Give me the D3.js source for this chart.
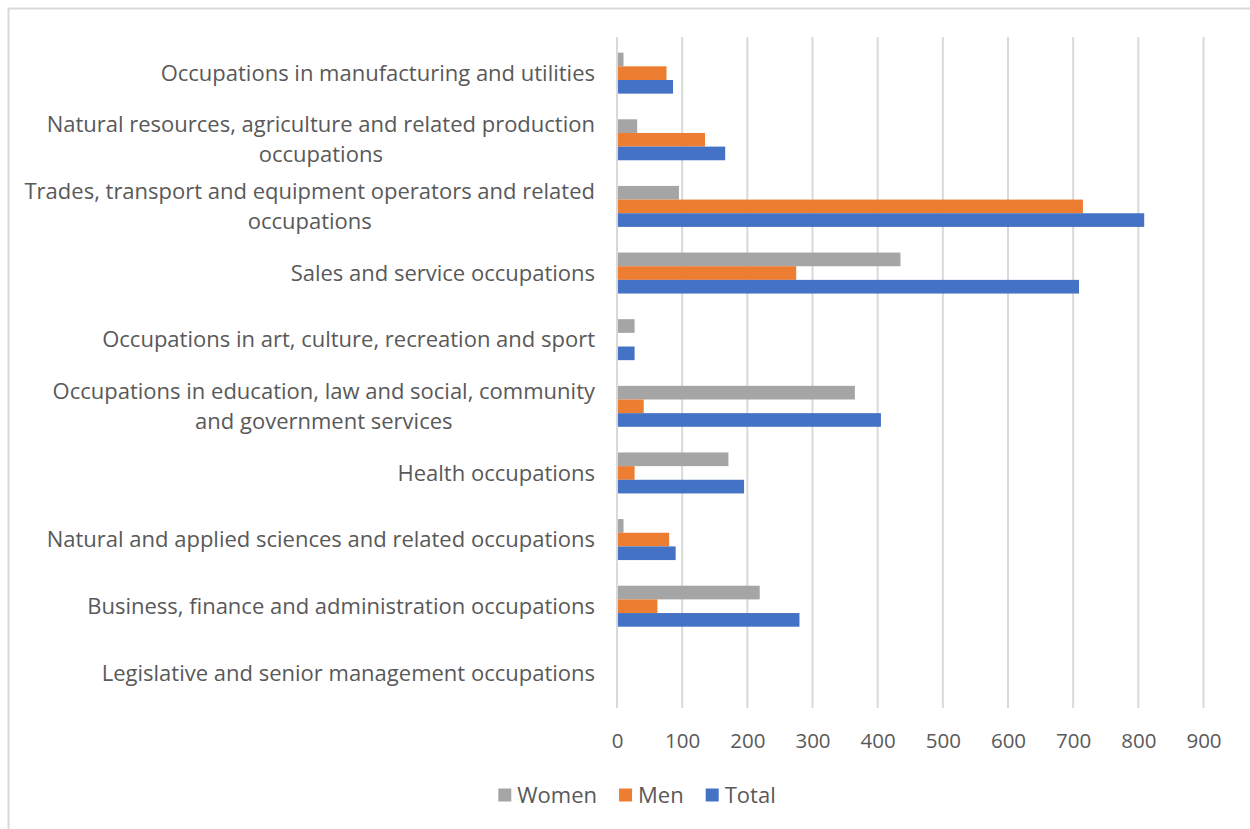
<!DOCTYPE html>
<html>
<head>
<meta charset="utf-8">
<script src="https://cdn.jsdelivr.net/npm/d3@7"></script>
<style>
  html, body { margin: 0; padding: 0; background: #fff; }
  svg text { font-family: "Open Sans", "Noto Sans", sans-serif; fill: #595959; }
</style>
</head>
<body>
<svg id="chart" width="1250" height="829"></svg>
<script>
// Occupation categories, top to bottom; each entry is a list of label lines
const categories = [
  ["Occupations in manufacturing and utilities"],
  ["Natural resources, agriculture and related production", "occupations"],
  ["Trades, transport and equipment operators and related", "occupations"],
  ["Sales and service occupations"],
  ["Occupations in art, culture, recreation and sport"],
  ["Occupations in education, law and social, community", "and government services"],
  ["Health occupations"],
  ["Natural and applied sciences and related occupations"],
  ["Business, finance and administration occupations"],
  ["Legislative and senior management occupations"]
];

const seriesNames = ["Women", "Men", "Total"];
const seriesColors = ["#A5A5A5", "#ED7D31", "#4472C4"];

const women = [10, 31, 95, 435, 27, 365, 171, 10, 219, 0];
const men   = [76, 135, 715, 275, 0, 41, 27, 80, 62, 0];
const total = [86, 166, 809, 709, 27, 405, 195, 90, 280, 0];

const xTicks = [0, 100, 200, 300, 400, 500, 600, 700, 800, 900];

const seriesValues = [women, men, total];

const labelSize = 22;
const tickSize = 20.5;

const svg = d3.select("#chart");

// Outer frame edges
svg.append("line").attr("x1", 8).attr("x2", 1250).attr("y1", 8.5).attr("y2", 8.5)
  .attr("stroke", "#d9d9d9").attr("stroke-width", 2);
svg.append("line").attr("x1", 8.5).attr("x2", 8.5).attr("y1", 8).attr("y2", 829)
  .attr("stroke", "#d9d9d9").attr("stroke-width", 2);

const plotTop = 40, plotBottom = 706;
const x = d3.scaleLinear().domain([0, 900]).range([617, 1203.5]);

const y = d3.scaleBand()
  .domain(d3.range(categories.length))
  .range([plotTop, plotBottom])
  .paddingInner(0.385)
  .paddingOuter(0.19);

const ySeries = d3.scaleBand()
  .domain(d3.range(seriesNames.length))
  .range([0, y.bandwidth()]);

// Vertical gridlines
svg.append("g").selectAll("line")
  .data(xTicks)
  .join("line")
  .attr("x1", d => x(d)).attr("x2", d => x(d))
  .attr("y1", 37).attr("y2", 708)
  .attr("stroke", "#d9d9d9").attr("stroke-width", 2);

// Bars
const rows = categories.map((c, i) => ({ i, values: seriesValues.map(s => s[i]) }));
const groups = svg.append("g").selectAll("g")
  .data(rows)
  .join("g")
  .attr("transform", d => `translate(0,${y(d.i)})`);

groups.selectAll("rect")
  .data(d => d.values.map((v, k) => ({ v, k })))
  .join("rect")
  .attr("x", x(0) + 1)
  .attr("y", d => ySeries(d.k))
  .attr("width", d => Math.max(0, x(d.v) - x(0) - 1))
  .attr("height", ySeries.bandwidth())
  .attr("fill", d => seriesColors[d.k]);

// X axis labels
const xAxis = d3.axisBottom(x).tickValues(xTicks).tickSize(0).tickPadding(0);
const gx = svg.append("g").attr("transform", "translate(0,741)").call(xAxis);
gx.select(".domain").remove();
gx.selectAll("text")
  .attr("font-size", tickSize)
  .attr("font-family", null)
  .attr("fill", "#595959")
  .attr("y", 0)
  .attr("dy", "0.35em");

// Category labels
const labelRight = 595;
const lineGap = 30;
const labels = svg.append("g").selectAll("g")
  .data(rows)
  .join("g")
  .attr("transform", d => `translate(0,${y(d.i) + y.bandwidth() / 2})`);

labels.each(function (d) {
  const g = d3.select(this);
  const lines = categories[d.i];
  const texts = lines.map((t, j) => g.append("text")
    .attr("font-size", labelSize)
    .attr("dy", "0.35em")
    .attr("y", (j - (lines.length - 1) / 2) * lineGap)
    .text(t));
  const widths = texts.map(t => t.node().getComputedTextLength());
  const maxW = d3.max(widths);
  const cx = labelRight - maxW / 2;
  texts.forEach(t => t.attr("text-anchor", "middle").attr("x", cx));
});

// Legend
const swatch = 13;
const itemGap = 22;
const legend = svg.append("g").attr("transform", "translate(0,795)");
const items = legend.selectAll("g")
  .data(seriesNames)
  .join("g");
items.append("rect")
  .attr("y", -swatch / 2).attr("width", swatch).attr("height", swatch)
  .attr("fill", (d, k) => seriesColors[k]);
items.append("text")
  .attr("x", swatch + 6).attr("dy", "0.35em")
  .attr("font-size", labelSize)
  .text(d => d);
let cursor = 0;
const itemX = [];
items.each(function () {
  itemX.push(cursor);
  cursor += this.getBBox().width + itemGap;
});
const legendWidth = cursor - itemGap;
const legendStart = 637 - legendWidth / 2;
items.attr("transform", (d, k) => `translate(${legendStart + itemX[k]},0)`);
</script>
</body>
</html>
